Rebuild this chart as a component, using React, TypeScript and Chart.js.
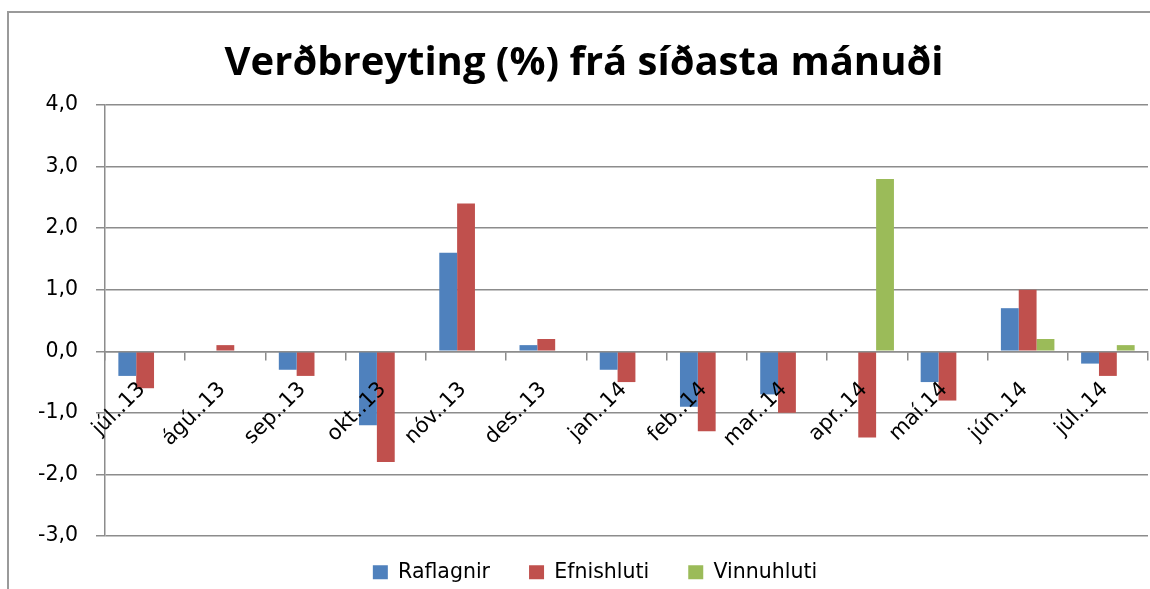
import React, { useEffect, useRef } from 'react';
import { Chart, registerables } from 'chart.js';

Chart.register(...registerables);

const titleText = 'Verðbreyting (%) frá síðasta mánuði';
const categories = ['júl..13', 'ágú..13', 'sep..13', 'okt..13', 'nóv..13', 'des..13', 'jan..14', 'feb..14', 'mar..14', 'apr..14', 'maí.14', 'jún..14', 'júl..14'];
const seriesNames = ['Raflagnir', 'Efnishluti', 'Vinnuhluti'];
const raflagnir = [-0.4, 0, -0.3, -1.2, 1.6, 0.1, -0.3, -0.9, -0.7, 0, -0.5, 0.7, -0.2];
const efnishluti = [-0.6, 0.1, -0.4, -1.8, 2.4, 0.2, -0.5, -1.3, -1.0, -1.4, -0.8, 1.0, -0.4];
const vinnuhluti = [0, 0, 0, 0, 0, 0, 0, 0, 0, 2.8, 0, 0.2, 0.1];
const seriesColors = ['#4F81BD', '#C0504D', '#9BBB59'];
const yMin = -3;
const yMax = 4;
const yStep = 1;

const FONT = '"DejaVu Sans", sans-serif';
const TITLE_FONT = '"Open Sans", Lato, sans-serif';
const GRID = '#8c8c8c';
const LEGEND_LIFT = 13;
const LEGEND_SHIFT = 11;

const legendLift = {
  id: 'legendLift',
  afterInit(chart: any) {
    const lg = chart.legend;
    if (!lg) return;
    const orig = lg.draw.bind(lg);
    lg.draw = function (...args: any[]) {
      const t = this.top;
      const l = this.left;
      const r = this.right;
      this.top = t - LEGEND_LIFT;
      this.left = l + LEGEND_SHIFT;
      this.right = r + LEGEND_SHIFT;
      orig(...args);
      this.top = t;
      this.left = l;
      this.right = r;
    };
  },
};

export default function App() {
  const ref = useRef<HTMLCanvasElement | null>(null);
  useEffect(() => {
    if (!ref.current) return;
    const chart = new Chart(ref.current, {
      type: 'bar',
      data: {
        labels: categories,
        datasets: [raflagnir, efnishluti, vinnuhluti].map((d, i) => ({
          label: seriesNames[i],
          data: d,
          backgroundColor: seriesColors[i],
          borderWidth: 0,
          categoryPercentage: 0.667,
          barPercentage: 1.0,
        })),
      },
      options: {
        responsive: false,
        animation: false,
        layout: { padding: { left: 20, right: 2, top: 0, bottom: 0 } },
        plugins: {
          title: {
            display: true,
            text: titleText,
            color: '#000',
            font: { family: TITLE_FONT, size: 40, weight: 'bold' },
            padding: { top: 40, bottom: 17 },
          },
          legend: {
            position: 'bottom',
            maxHeight: 53,
            labels: {
              boxWidth: 15,
              boxHeight: 14,
              padding: 39,
              color: '#000',
              font: { family: FONT, size: 20.5 },
            },
          },
          tooltip: { enabled: false },
        },
        scales: {
          x: {
            position: { y: 0 },
            grid: {
              offset: true,
              drawOnChartArea: false,
              drawTicks: true,
              tickLength: 8,
              color: GRID,
              lineWidth: 1.5,
            },
            border: { color: GRID, width: 1.5, z: 1 },
            ticks: {
              minRotation: 45,
              maxRotation: 45,
              autoSkip: false,
              color: '#000',
              padding: 18,
              labelOffset: -3,
              z: 1,
              font: { family: FONT, size: 21 },
            },
          },
          y: {
            min: yMin,
            max: yMax,
            ticks: {
              stepSize: yStep,
              color: '#000',
              padding: 18,
              font: { family: FONT, size: 20.5 },
              callback: (v: any) => Number(v).toFixed(1).replace('.', ','),
            },
            grid: { color: GRID, lineWidth: 1.5, tickLength: 9 },
            border: { color: GRID, width: 1.5 },
          },
        },
      },
      plugins: [legendLift],
    } as any);
    return () => chart.destroy();
  }, []);
  return (
    <div style={{ position: 'fixed', left: 0, top: 0, width: 1150, height: 589, overflow: 'hidden', background: '#fff' }}>
      <div style={{ position: 'absolute', left: 7, top: 11, width: 1200, height: 700, border: '2px solid #9a9a9a' }} />
      <canvas ref={ref} width={1150} height={589} style={{ position: 'absolute', left: 0, top: 0 }} />
    </div>
  );
}
